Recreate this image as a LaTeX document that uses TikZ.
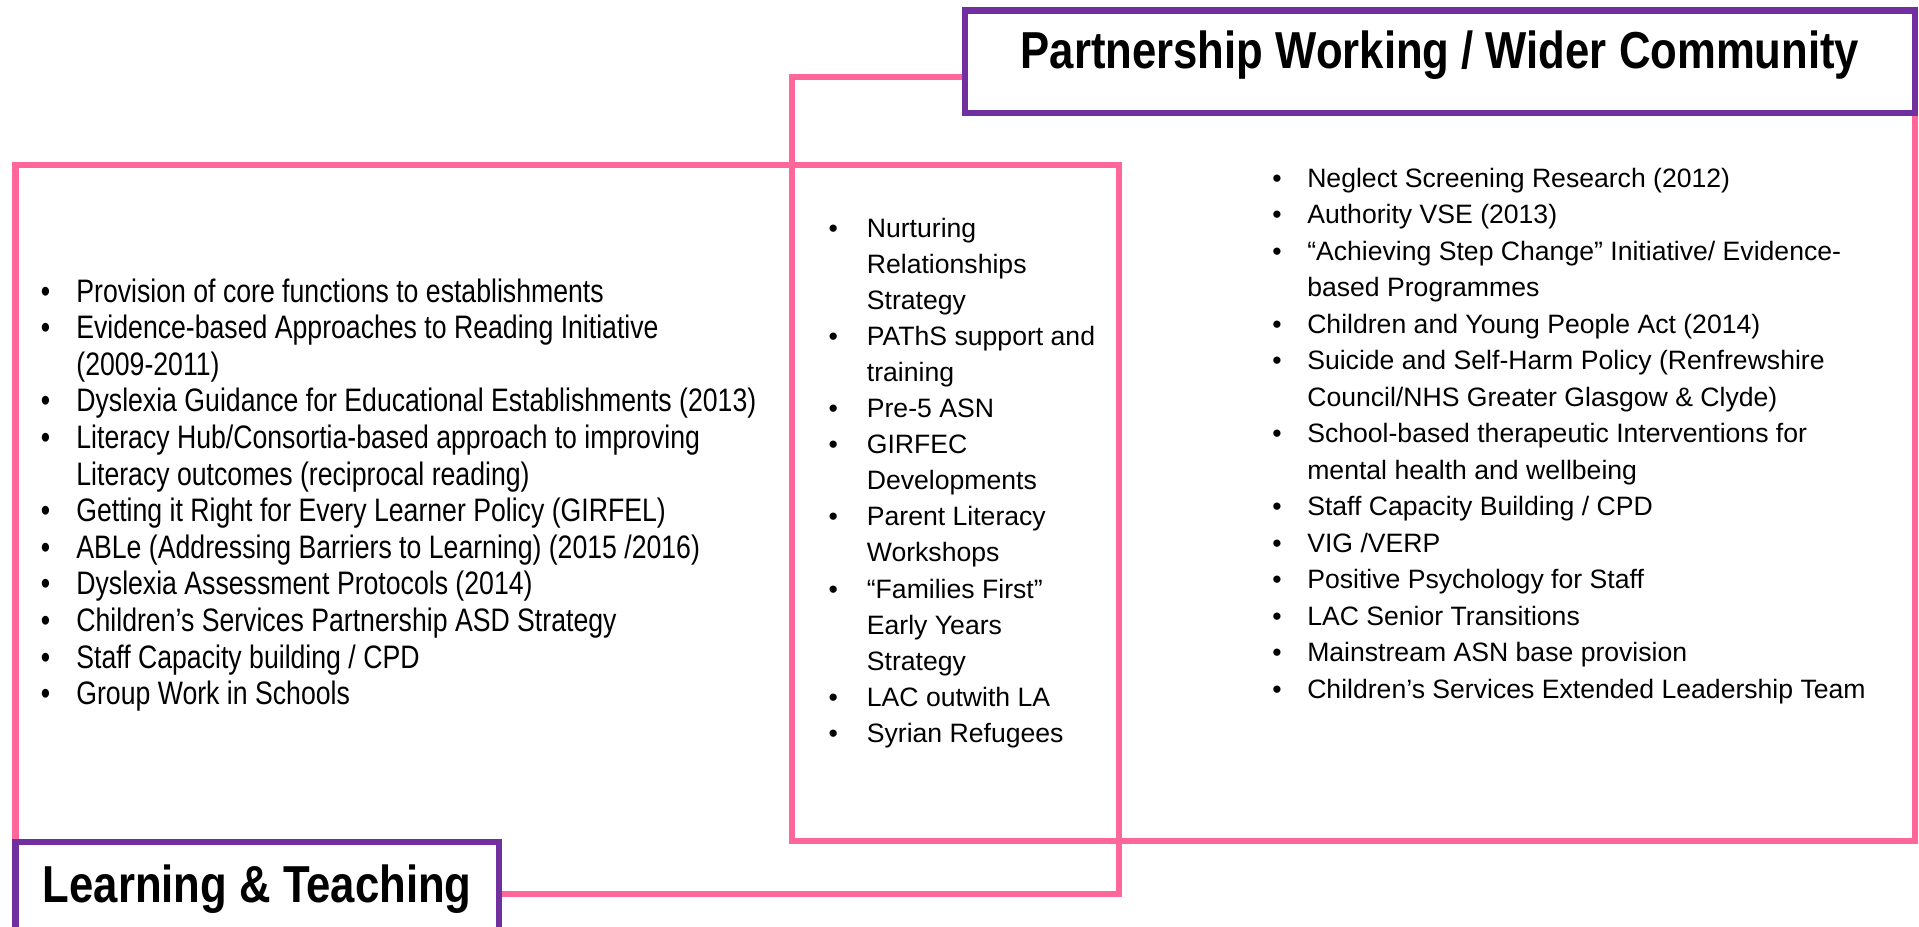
\documentclass[tikz,border=0pt]{standalone}
\usepackage{fontspec}
\usepackage{xcolor}
\usepackage{tikz}
\usetikzlibrary{calc}

\setmainfont{Liberation Sans}
\newfontfamily\narrowfont[FakeStretch=0.82]{Liberation Sans}
\newfontfamily\titlefont[FakeStretch=0.84]{Liberation Sans}

\definecolor{framepink}{RGB}{255,102,153}
\definecolor{titlepurple}{RGB}{112,48,160}

\newlength\bulletgap
\newcommand\listitem[1]{\par\hangindent=\bulletgap\hangafter=1\noindent
  \makebox[\bulletgap][l]{\textbullet}#1}
\newcommand\itemcolumn[2]{\vtop{\hsize=700pt\parindent=0pt
  \setlength\bulletgap{#1}#2}}

\begin{document}
\begin{tikzpicture}[x=0.5pt,y=-0.5pt]
% 1 unit = 1 pixel of the page
    \def\WIDTH{1919}
    \def\HEIGHT{927}

    % LEARNING & TEACHING frame
    \def\XLTLEFT{15.5}
    \def\XLTRIGHT{1119}
    \def\YLTTOP{165}
    \def\YLTBOTTOM{894}
    \def\XLTBOXRIGHT{499}
    \def\YLTBOXTOP{842}

    % PARTNERSHIP frame
    \def\XPWLEFT{792}
    \def\XPWRIGHT{1915}
    \def\YPWTOP{77}
    \def\YPWBOTTOM{841}
    \def\XPWBOXLEFT{965}
    \def\YPWBOXTOP{10.5}
    \def\YPWBOXBOTTOM{113}

    \tikzset{
      frame/.style={draw=framepink, line width=3.3pt},
      titlebox/.style={draw=titlepurple, fill=white, line width=3.3pt},
      titletext/.style={anchor=base, inner sep=0pt,
        font=\titlefont\bfseries\fontsize{26pt}{30pt}\selectfont},
      itemlist/.style={anchor=base west, inner sep=0pt},
    }

    \useasboundingbox (0,0) rectangle (\WIDTH,\HEIGHT);
    \clip (0,0) rectangle (\WIDTH,\HEIGHT);

    % pink frames
    \draw[frame] (\XLTLEFT,\YLTTOP) rectangle (\XLTRIGHT,\YLTBOTTOM);
    \draw[frame] (\XPWLEFT,\YPWTOP) rectangle (\XPWRIGHT,\YPWBOTTOM);

    % title boxes
    \draw[titlebox] (\XPWBOXLEFT,\YPWBOXTOP) coordinate (PWA)
        rectangle (\XPWRIGHT,\YPWBOXBOTTOM) coordinate (PWB);
    \draw[titlebox] (\XLTLEFT,\YLTBOXTOP) coordinate (LTA)
        rectangle (\XLTBOXRIGHT,{\HEIGHT+40}) coordinate (LTB);

    \node[titletext] (pwtitle) at ({(\XPWBOXLEFT+\XPWRIGHT)/2},68)
        {Partnership Working / Wider Community};
    \node[titletext] (lttitle) at ({(\XLTLEFT+\XLTBOXRIGHT)/2},902)
        {Learning \& Teaching};

    % LEFT LIST
    \node[itemlist, font=\narrowfont\fontsize{16.25pt}{18.3pt}\selectfont]
        (ltlist) at (40.5,302) {\itemcolumn{17.75pt}{%
      \listitem{Provision of core functions to establishments}
      \listitem{Evidence-based Approaches to Reading Initiative\\(2009-2011)}
      \listitem{Dyslexia Guidance for Educational Establishments (2013)}
      \listitem{Literacy Hub/Consortia-based approach to improving\\Literacy outcomes (reciprocal reading)}
      \listitem{Getting it Right for Every Learner Policy (GIRFEL)}
      \listitem{ABLe (Addressing Barriers to Learning) (2015 /2016)}
      \listitem{Dyslexia Assessment Protocols (2014)}
      \listitem{Children’s Services Partnership ASD Strategy}
      \listitem{Staff Capacity building / CPD}
      \listitem{Group Work in Schools}}};

    % MIDDLE LIST
    \node[itemlist, font=\fontsize{13.3pt}{18.05pt}\selectfont]
        (midlist) at (828.3,237) {\itemcolumn{19.1pt}{%
      \listitem{Nurturing\\Relationships\\Strategy}
      \listitem{PAThS support and\\training}
      \listitem{Pre-5 ASN}
      \listitem{GIRFEC\\Developments}
      \listitem{Parent Literacy\\Workshops}
      \listitem{“Families First”\\Early Years\\Strategy}
      \listitem{LAC outwith LA}
      \listitem{Syrian Refugees}}};

    % RIGHT LIST
    \node[itemlist, font=\fontsize{13.3pt}{18.25pt}\selectfont]
        (pwlist) at (1271.9,187) {\itemcolumn{17.5pt}{%
      \listitem{Neglect Screening Research (2012)}
      \listitem{Authority VSE (2013)}
      \listitem{“Achieving Step Change” Initiative/ Evidence-\\based Programmes}
      \listitem{Children and Young People Act (2014)}
      \listitem{Suicide and Self-Harm Policy (Renfrewshire\\Council/NHS Greater Glasgow \& Clyde)}
      \listitem{School-based therapeutic Interventions for\\mental health and wellbeing}
      \listitem{Staff Capacity Building / CPD}
      \listitem{VIG /VERP}
      \listitem{Positive Psychology for Staff}
      \listitem{LAC Senior Transitions}
      \listitem{Mainstream ASN base provision}
      \listitem{Children’s Services Extended Leadership Team}}};

\end{tikzpicture}
\end{document}
